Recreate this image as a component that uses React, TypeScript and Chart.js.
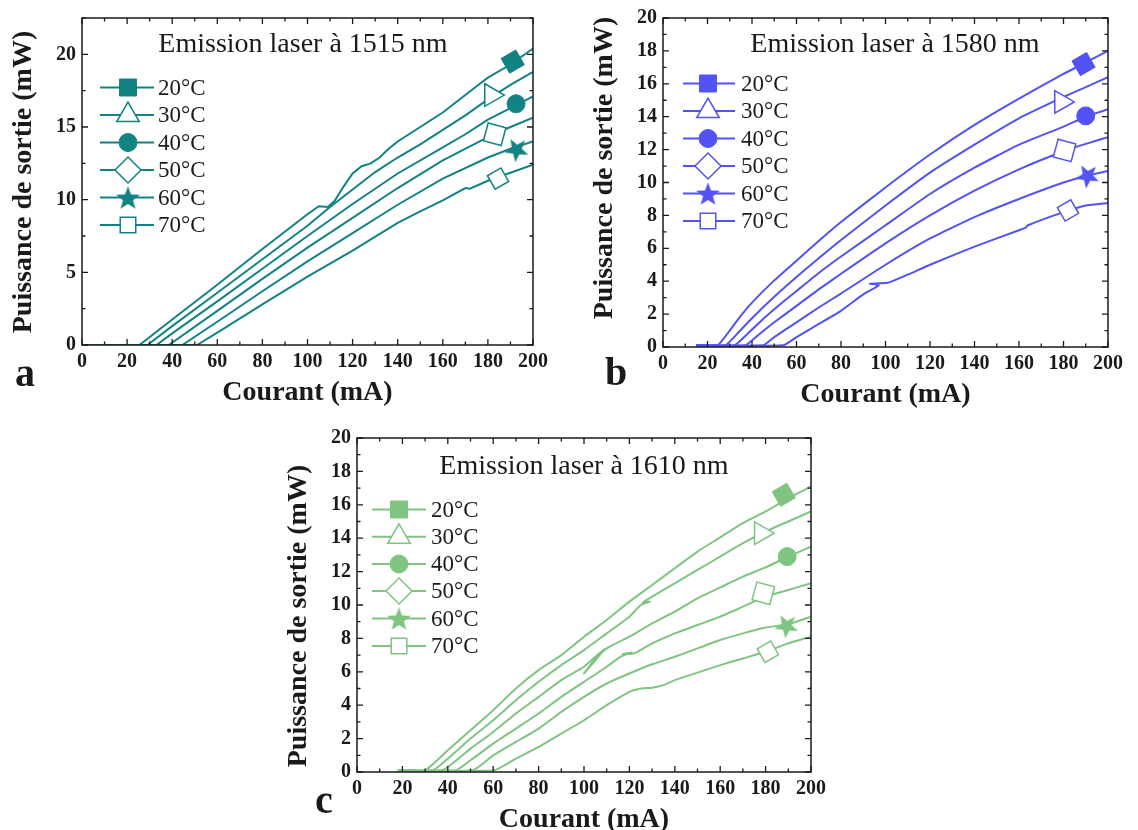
import React, { useEffect, useRef } from 'react';
import { Chart, registerables } from 'chart.js';
import { drawPoint } from 'chart.js/helpers';

Chart.register(...registerables);

type Pt = [number, number];

const SERIF = '"Liberation Serif", "Times New Roman", serif';
const TEMPS = ['20°C', '30°C', '40°C', '50°C', '60°C', '70°C'];
const X_TICK_LABELS = [0, 20, 40, 60, 80, 100, 120, 140, 160, 180, 200];

// ---------- Panel a : 1515 nm ----------
const a20: Pt[] = [[2, 0], [25.5, 0], [40, 1.75], [60, 4.15], [80, 6.6], [100, 9.0], [105, 9.55], [109, 9.5], [112, 9.9], [116, 10.9], [120, 11.8], [124, 12.3], [128, 12.5], [132, 12.9], [136, 13.5], [140, 14.0], [150, 15.0], [160, 16.0], [170, 17.2], [175, 17.8], [180, 18.4], [190, 19.3], [200, 20.4]];
const a30: Pt[] = [[2, 0], [29, 0], [40, 1.3], [60, 3.6], [80, 5.9], [100, 8.2], [110, 9.5], [120, 10.7], [130, 11.9], [140, 12.9], [150, 13.8], [160, 14.8], [170, 15.8], [180, 16.9], [190, 17.9], [200, 18.8]];
const a40: Pt[] = [[2, 0], [33, 0], [40, 0.8], [60, 3.0], [80, 5.25], [100, 7.5], [120, 9.7], [140, 11.8], [160, 13.6], [170, 14.5], [180, 15.5], [190, 16.3], [200, 17.1]];
const a50: Pt[] = [[2, 0], [38.5, 0], [60, 2.35], [80, 4.55], [100, 6.7], [120, 8.75], [140, 10.8], [160, 12.7], [180, 14.3], [190, 15.0], [200, 15.65]];
const a60: Pt[] = [[2, 0], [44.5, 0], [60, 1.6], [80, 3.7], [100, 5.75], [120, 7.7], [140, 9.65], [160, 11.45], [180, 12.9], [190, 13.5], [200, 14.0]];
const a70: Pt[] = [[2, 0], [51, 0], [60, 0.85], [80, 2.8], [100, 4.7], [120, 6.5], [140, 8.4], [150, 9.2], [160, 9.95], [170, 10.8], [172, 10.75], [180, 11.3], [190, 11.85], [200, 12.4]];
const marksA: Pt[] = [[191, 19.5], [181.5, 17.2], [192.5, 16.6], [183, 14.5], [192.5, 13.5], [184.5, 11.45]];

// ---------- Panel b : 1580 nm ----------
const b20: Pt[] = [[15, 0.1], [24.5, 0.1], [30, 1.0], [35, 1.9], [40, 2.7], [50, 4.05], [60, 5.25], [70, 6.45], [80, 7.6], [100, 9.7], [120, 11.7], [140, 13.5], [160, 15.1], [180, 16.6], [190, 17.3], [200, 18.0]];
const b30: Pt[] = [[15, 0.1], [28, 0.1], [34, 0.9], [40, 1.75], [50, 3.05], [60, 4.25], [70, 5.4], [80, 6.5], [100, 8.6], [120, 10.6], [140, 12.3], [160, 13.9], [180, 15.2], [190, 15.8], [200, 16.4]];
const b40: Pt[] = [[15, 0.1], [32, 0.1], [38, 0.8], [45, 1.7], [50, 2.3], [60, 3.4], [70, 4.5], [80, 5.5], [100, 7.4], [120, 9.3], [140, 10.9], [160, 12.3], [180, 13.4], [190, 14.0], [200, 14.45]];
const b50: Pt[] = [[15, 0.1], [37, 0.1], [43, 0.75], [50, 1.5], [60, 2.5], [70, 3.5], [80, 4.45], [100, 6.3], [120, 8.0], [140, 9.5], [160, 10.8], [180, 11.9], [190, 12.35], [200, 12.75]];
const b60: Pt[] = [[15, 0.1], [45, 0.1], [50, 0.6], [60, 1.5], [70, 2.4], [80, 3.25], [100, 5.0], [120, 6.6], [140, 7.9], [160, 9.0], [180, 10.0], [190, 10.4], [200, 10.7]];
const b70: Pt[] = [[15, 0.1], [54, 0.1], [60, 0.6], [70, 1.4], [80, 2.2], [90, 3.2], [97, 3.75], [93, 3.85], [101, 3.9], [110, 4.4], [120, 5.0], [140, 6.1], [160, 7.1], [163, 7.25], [164, 7.4], [180, 8.2], [190, 8.6], [200, 8.75]];
const marksB: Pt[] = [[189, 17.2], [179, 14.9], [190, 14.05], [180.5, 11.95], [190.5, 10.45], [182, 8.3]];

// ---------- Panel c : 1610 nm ----------
const c20: Pt[] = [[18, 0.1], [30, 0.1], [40, 1.3], [50, 2.5], [60, 3.7], [70, 5.0], [80, 6.1], [90, 7.0], [100, 8.1], [110, 9.1], [120, 10.2], [130, 11.2], [140, 12.2], [150, 13.2], [160, 14.05], [170, 14.9], [180, 15.6], [190, 16.4], [200, 17.1]];
const c30: Pt[] = [[18, 0.1], [33.5, 0.1], [40, 0.8], [50, 2.0], [60, 3.1], [70, 4.3], [80, 5.4], [90, 6.4], [100, 7.3], [110, 8.3], [120, 9.3], [125, 10.0], [129, 10.2], [126, 10.15], [130, 10.5], [140, 11.3], [150, 12.1], [160, 12.9], [170, 13.7], [180, 14.4], [190, 15.0], [200, 15.6]];
const c40: Pt[] = [[18, 0.1], [37.5, 0.1], [50, 1.4], [60, 2.4], [70, 3.5], [80, 4.5], [90, 5.5], [100, 6.3], [105, 6.9], [109, 7.35], [100, 5.9], [104, 6.6], [110, 7.4], [120, 8.1], [130, 8.9], [140, 9.6], [150, 10.4], [160, 11.05], [170, 11.7], [180, 12.25], [190, 12.9], [200, 13.5]];
const c50: Pt[] = [[18, 0.1], [43.5, 0.1], [50, 0.7], [60, 1.7], [70, 2.6], [80, 3.5], [90, 4.5], [100, 5.4], [110, 6.3], [116, 6.9], [121, 7.15], [117, 7.05], [122, 7.1], [130, 7.7], [140, 8.3], [150, 8.8], [160, 9.3], [170, 9.9], [180, 10.5], [190, 10.9], [200, 11.3]];
const c60: Pt[] = [[18, 0.1], [51, 0.1], [60, 1.0], [70, 1.8], [80, 2.6], [90, 3.6], [100, 4.5], [110, 5.3], [120, 5.9], [130, 6.45], [140, 6.9], [150, 7.4], [160, 7.9], [170, 8.3], [180, 8.65], [190, 8.85], [200, 9.3]];
const c70: Pt[] = [[18, 0.1], [60.5, 0.1], [70, 0.8], [80, 1.5], [90, 2.3], [100, 3.1], [110, 4.0], [120, 4.8], [125, 5.0], [130, 5.05], [135, 5.2], [140, 5.5], [150, 5.95], [160, 6.4], [170, 6.8], [180, 7.2], [190, 7.7], [200, 8.1]];
const marksC: Pt[] = [[188, 16.6], [178, 14.3], [189.5, 12.9], [179, 10.7], [189, 8.8], [181, 7.2]];

// marker styles for the six temperatures
const MARK_STYLE = ['rect', 'triangle', 'circle', 'rectRot', 'star', 'rect'];
const MARK_RADIUS = [12, 13, 9, 13, 12, 11];
const MARK_FILLED = [true, false, true, false, true, false];

interface Panel {
  id: string;
  letter: string;
  title: string;
  color: string;
  series: Pt[][];
  marks: Pt[];
  yMax: number;
  yStep: number;
  yMinor: number;
  tension: number;
  canvas: { left: number; top: number; w: number; h: number };
  plot: { l: number; t: number; r: number; b: number };
  yTitleY: number;
  titleX: number;
  titleBase: number;
  letterX: number;
  letterBase: number;
  legend: { x1: number; x2: number; mx: number; tx: number; rows: number[] };
}

const PANELS: Panel[] = [
  {
    id: 'a', letter: 'a', title: 'Emission laser à 1515 nm', color: '#128282',
    series: [a20, a30, a40, a50, a60, a70], marks: marksA,
    yMax: 22.5, yStep: 5, yMinor: 2.5, tension: 0,
    canvas: { left: 0, top: 0, w: 565, h: 415 },
    plot: { l: 82, t: 15, r: 533, b: 345 },
    yTitleY: 182, titleX: 303, titleBase: 52, letterX: 25, letterBase: 386,
    legend: { x1: 100, x2: 154, mx: 128, tx: 158, rows: [87.5, 115, 142.5, 170, 197.5, 225] },
  },
  {
    id: 'b', letter: 'b', title: 'Emission laser à 1580 nm', color: '#5252f5',
    series: [b20, b30, b40, b50, b60, b70], marks: marksB,
    yMax: 20, yStep: 2, yMinor: 1, tension: 0.15,
    canvas: { left: 565, top: 0, w: 573, h: 415 },
    plot: { l: 663, t: 15, r: 1108, b: 347 },
    yTitleY: 168, titleX: 895, titleBase: 52, letterX: 616, letterBase: 385,
    legend: { x1: 683, x2: 735, mx: 708, tx: 741, rows: [83.5, 111, 138.5, 166, 193.5, 221] },
  },
  {
    id: 'c', letter: 'c', title: 'Emission laser à 1610 nm', color: '#80c482',
    series: [c20, c30, c40, c50, c60, c70], marks: marksC,
    yMax: 20, yStep: 2, yMinor: 1, tension: 0.15,
    canvas: { left: 270, top: 420, w: 570, h: 410 },
    plot: { l: 357, t: 437, r: 811, b: 772 },
    yTitleY: 616, titleX: 584, titleBase: 474, letterX: 324, letterBase: 813,
    legend: { x1: 372, x2: 426, mx: 399, tx: 431, rows: [509.5, 536.8, 564, 591, 618.5, 646] },
  },
];

const Y_W = 60;
const X_H = 30;
const INK = '#1a1a1a';

function makeStar(color: string, size: number): HTMLCanvasElement {
  const c = document.createElement('canvas');
  c.width = size;
  c.height = size;
  const g = c.getContext('2d')!;
  g.fillStyle = color;
  const R = size / 2;
  const r = R * 0.42;
  const cx = size / 2;
  const cy = size / 2 + R * 0.09;
  g.beginPath();
  for (let i = 0; i < 10; i++) {
    const ang = -Math.PI / 2 + (i * Math.PI) / 5;
    const rad = i % 2 === 0 ? R : r;
    g.lineTo(cx + rad * Math.cos(ang), cy + rad * Math.sin(ang));
  }
  g.closePath();
  g.fill();
  return c;
}

function pointStyleFor(i: number, star: HTMLCanvasElement): any {
  return MARK_STYLE[i] === 'star' ? star : MARK_STYLE[i];
}

function decorPlugin(p: Panel, star: HTMLCanvasElement) {
  const ox = p.canvas.left;
  const oy = p.canvas.top;
  return {
    id: 'decor' + p.id,
    afterDraw(chart: any) {
      const ctx: CanvasRenderingContext2D = chart.ctx;
      const area = chart.chartArea;
      const xs = chart.scales.x;
      const ys = chart.scales.y;
      ctx.save();
      // frame
      ctx.strokeStyle = INK;
      ctx.lineWidth = 1.5;
      ctx.strokeRect(area.left, area.top, area.right - area.left, area.bottom - area.top);
      // ticks (inward, all four sides)
      ctx.lineWidth = 1.3;
      ctx.beginPath();
      for (let v = 0; v <= 200 + 1e-9; v += 10) {
        const px = xs.getPixelForValue(v);
        const len = v % 20 === 0 ? 6 : 3.5;
        ctx.moveTo(px, area.bottom);
        ctx.lineTo(px, area.bottom - len);
        ctx.moveTo(px, area.top);
        ctx.lineTo(px, area.top + len);
      }
      for (let v = 0; v <= p.yMax + 1e-9; v += p.yMinor) {
        const py = ys.getPixelForValue(v);
        const major = Math.abs(v / p.yStep - Math.round(v / p.yStep)) < 1e-6;
        const len = major ? 6 : 3.5;
        ctx.moveTo(area.left, py);
        ctx.lineTo(area.left + len, py);
        ctx.moveTo(area.right, py);
        ctx.lineTo(area.right - len, py);
      }
      ctx.stroke();

      // title inside plot
      ctx.fillStyle = INK;
      ctx.font = `28px ${SERIF}`;
      ctx.textAlign = 'center';
      ctx.textBaseline = 'alphabetic';
      ctx.fillText(p.title, p.titleX - ox, p.titleBase - oy);

      // legend
      const L = p.legend;
      for (let i = 0; i < 6; i++) {
        const y = L.rows[i] - oy;
        ctx.strokeStyle = p.color;
        ctx.lineWidth = 2;
        ctx.beginPath();
        ctx.moveTo(L.x1 - ox, y);
        ctx.lineTo(L.x2 - ox, y);
        ctx.stroke();
        ctx.fillStyle = MARK_FILLED[i] ? p.color : '#ffffff';
        ctx.strokeStyle = p.color;
        ctx.lineWidth = MARK_FILLED[i] ? 1 : 1.5;
        drawPoint(ctx, {
          pointStyle: pointStyleFor(i, star),
          rotation: 0,
          radius: MARK_RADIUS[i],
          borderWidth: MARK_FILLED[i] ? 1 : 1.5,
        } as any, L.mx - ox, y);
        ctx.fillStyle = INK;
        ctx.font = `23px ${SERIF}`;
        ctx.textAlign = 'left';
        ctx.textBaseline = 'middle';
        ctx.fillText(TEMPS[i], L.tx - ox, y + 1);
      }

      // axis titles
      ctx.fillStyle = INK;
      ctx.font = `bold 28px ${SERIF}`;
      ctx.textAlign = 'center';
      ctx.textBaseline = 'middle';
      ctx.fillText('Courant (mA)', (area.left + area.right) / 2, area.bottom + 48);
      ctx.save();
      ctx.translate(area.left - 58, p.yTitleY - oy);
      ctx.rotate(-Math.PI / 2);
      ctx.fillText('Puissance de sortie (mW)', 0, 0);
      ctx.restore();

      // panel letter
      ctx.font = `bold 40px ${SERIF}`;
      ctx.textAlign = 'center';
      ctx.textBaseline = 'alphabetic';
      ctx.fillText(p.letter, p.letterX - ox, p.letterBase - oy);
      ctx.restore();
    },
  };
}

function PanelChart({ p }: { p: Panel }) {
  const ref = useRef<HTMLCanvasElement | null>(null);
  useEffect(() => {
    if (!ref.current) return;
    const star = makeStar(p.color, 25);
    const lineSets = p.series.map((s, i) => ({
      label: TEMPS[i],
      data: s.map(([x, y]) => ({ x, y })),
      borderColor: p.color,
      backgroundColor: p.color,
      borderWidth: 2,
      pointRadius: 0,
      fill: false,
      tension: p.tension,
      order: 2,
    }));
    const markSets = p.marks.map(([x, y], i) => ({
      label: 'mark ' + TEMPS[i],
      data: [{ x, y }],
      showLine: false,
      pointStyle: pointStyleFor(i, star),
      pointRadius: MARK_RADIUS[i],
      pointRotation: -30,
      pointBackgroundColor: MARK_FILLED[i] ? p.color : '#ffffff',
      pointBorderColor: p.color,
      pointBorderWidth: MARK_FILLED[i] ? 1 : 1.5,
      borderColor: p.color,
      order: 1,
      clip: false as any,
    }));
    const pad = {
      left: p.plot.l - p.canvas.left - Y_W,
      top: p.plot.t - p.canvas.top,
      right: p.canvas.left + p.canvas.w - p.plot.r,
      bottom: p.canvas.top + p.canvas.h - p.plot.b - X_H,
    };
    const tickFont = { family: SERIF, size: 20, weight: 'bold' as const };
    const chart = new Chart(ref.current, {
      type: 'line',
      data: { datasets: [...lineSets, ...markSets] as any },
      options: {
        responsive: false,
        animation: false,
        events: [],
        layout: { padding: pad },
        plugins: {
          legend: { display: false },
          tooltip: { enabled: false },
          title: { display: false },
        },
        scales: {
          x: {
            type: 'linear',
            min: 0,
            max: 200,
            grid: { display: false, drawTicks: false },
            border: { display: false },
            ticks: {
              stepSize: 20,
              autoSkip: false,
              maxRotation: 0,
              padding: 5,
              color: INK,
              font: tickFont,
            },
            afterBuildTicks: (s: any) => {
              s.ticks = X_TICK_LABELS.map((v) => ({ value: v }));
            },
            afterFit: (s: any) => {
              s.height = X_H;
            },
          },
          y: {
            type: 'linear',
            min: 0,
            max: p.yMax,
            grid: { display: false, drawTicks: false },
            border: { display: false },
            ticks: {
              stepSize: p.yStep,
              padding: 6,
              color: INK,
              font: tickFont,
            },
            afterBuildTicks: (s: any) => {
              s.ticks = s.ticks.filter(
                (t: any) => Math.abs(t.value / p.yStep - Math.round(t.value / p.yStep)) < 1e-6,
              );
            },
            afterFit: (s: any) => {
              s.width = Y_W;
            },
          },
        },
      },
      plugins: [decorPlugin(p, star)],
    });
    return () => chart.destroy();
  }, [p]);
  return (
    <canvas
      ref={ref}
      width={p.canvas.w}
      height={p.canvas.h}
      style={{
        position: 'absolute',
        left: p.canvas.left,
        top: p.canvas.top,
        width: p.canvas.w,
        height: p.canvas.h,
      }}
    />
  );
}

export default function App() {
  return (
    <div style={{ position: 'absolute', left: 0, top: 0, width: 1138, height: 830, background: '#ffffff' }}>
      {PANELS.map((p) => (
        <PanelChart key={p.id} p={p} />
      ))}
    </div>
  );
}
